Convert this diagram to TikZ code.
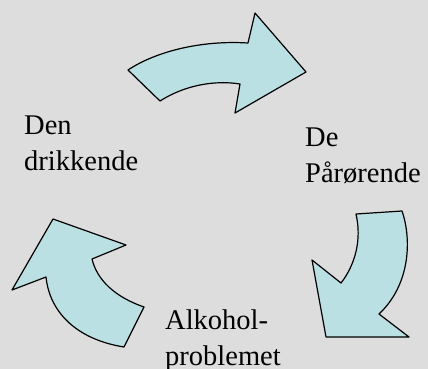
\documentclass[tikz,border=0pt]{standalone}
\usepackage{fontspec}
\setmainfont{Liberation Serif}
\definecolor{bg}{HTML}{DDDDDD}
\definecolor{pil}{HTML}{BBE0E3}
\tikzset{
  pil/.style={draw=black, line width=1.2pt, fill=pil, line join=round},
  etikett/.style={inner sep=0pt, anchor=base west, align=left,
    font=\fontsize{28.5}{34}\selectfont}
}

\begin{document}
\begin{tikzpicture}[x=1pt, y=-1pt]
      \fill[bg] (0,0) rectangle (428,369);
      \useasboundingbox (0,0) rectangle (428,369);
      % top arrow
      \draw[pil] (128,70) .. controls (155,52) and (200,40) .. (248,43) -- (255,13) -- (306,72)
        -- (235,113) -- (240,84) .. controls (215,80) and (185,85) .. (160,101) -- cycle;
      % right arrow
      \draw[pil] (356,214) -- (402,211) .. controls (412,240) and (410,285) .. (379,314)
        -- (409,337) -- (326,337) -- (312,260) -- (341,283) .. controls (355,265) and (362,240) .. (356,214) -- cycle;
      % left arrow
      \draw[pil] (124,347) -- (144,307) .. controls (115,297) and (97,280) .. (92,259) -- (126,245)
        -- (53,219) -- (12,290) -- (46,277) .. controls (50,315) and (80,340) .. (124,347) -- cycle;
      \node[etikett] (drikkende) at (24,170) {Den\\[2pt]drikkende};
      \node[etikett] (paarorende) at (305,182) {De\\[2pt]Pårørende};
      \node[etikett] (problemet) at (165,365) {Alkohol-\\[2pt]problemet};
\end{tikzpicture}
\end{document}
